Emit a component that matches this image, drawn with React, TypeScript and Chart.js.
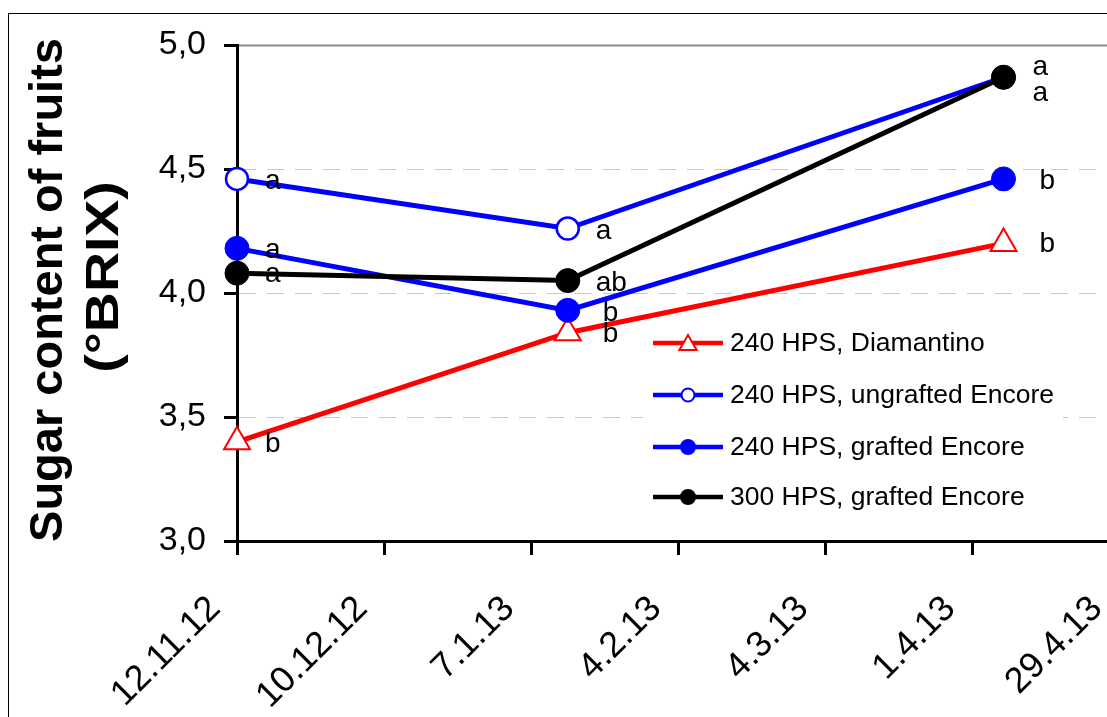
import { useEffect, useRef } from 'react';
import { Chart, registerables } from 'chart.js';

Chart.register(...registerables);

// Sampling calendar: ticks every 28 days starting 12.11.12
const dateTicks = ['12.11.12', '10.12.12', '7.1.13', '4.2.13', '4.3.13', '1.4.13', '29.4.13'];
const tickStepDays = 28;
const samplingDays = [0, 63, 146];

const seriesNames = [
  '240 HPS, Diamantino',
  '240 HPS, ungrafted Encore',
  '240 HPS, grafted Encore',
  '300 HPS, grafted Encore',
];

// °BRIX per sampling date
const diamantino240 = [3.4, 3.84, 4.2];
const ungraftedEncore240 = [4.46, 4.26, 4.87];
const graftedEncore240 = [4.18, 3.93, 4.46];
const graftedEncore300 = [4.08, 4.05, 4.87];

// Significance letters per sampling date
const diamantino240Letters = ['b', 'b', 'b'];
const ungraftedEncore240Letters = ['a', 'a', 'a'];
const graftedEncore240Letters = ['a', 'b', 'b'];
const graftedEncore300Letters = ['a', 'ab', 'a'];

const yMin = 3.0;
const yMax = 5.0;
const yStep = 0.5;

const FONT = '"Liberation Sans", Arial, sans-serif';
const CANVAS_W = 1180;
const CANVAS_H = 717;

type SeriesStyle = {
  color: string;
  pointStyle: 'triangle' | 'circle';
  radius: number;
  fill: string;
  borderWidth: number;
  legendRadius: number;
  order: number;
  letterOffsets: [number, number][];
};

const styles: SeriesStyle[] = [
  { color: '#ff0000', pointStyle: 'triangle', radius: 15, fill: '#ffffff', borderWidth: 2, legendRadius: 10, order: 3,
    letterOffsets: [[28, 10], [35, 9], [36, 9]] },
  { color: '#0000ff', pointStyle: 'circle', radius: 11, fill: '#ffffff', borderWidth: 2.5, legendRadius: 6.5, order: 2,
    letterOffsets: [[28, 10], [28, 10], [29, -2]] },
  { color: '#0000ff', pointStyle: 'circle', radius: 12, fill: '#0000ff', borderWidth: 1, legendRadius: 7, order: 1,
    letterOffsets: [[28, 10], [35, 11], [36, 10]] },
  { color: '#000000', pointStyle: 'circle', radius: 12, fill: '#000000', borderWidth: 1, legendRadius: 7, order: 0,
    letterOffsets: [[28, 9], [28, 10], [29, 24]] },
];

const seriesValues = [diamantino240, ungraftedEncore240, graftedEncore240, graftedEncore300];
const seriesLetters = [diamantino240Letters, ungraftedEncore240Letters, graftedEncore240Letters, graftedEncore300Letters];

// Horizontal grid: solid line on top, dashed lines elsewhere
const gridPlugin = {
  id: 'brixGrid',
  beforeDatasetsDraw(chart: any) {
    const { ctx, chartArea, scales } = chart;
    const y = scales.y;
    ctx.save();
    for (let v = yMin + yStep; v <= yMax + 1e-9; v += yStep) {
      const py = Math.round(y.getPixelForValue(v)) + 0.5;
      ctx.beginPath();
      if (Math.abs(v - yMax) < 1e-9) {
        ctx.setLineDash([]);
        ctx.strokeStyle = '#8c8c8c';
        ctx.lineWidth = 2;
      } else {
        ctx.setLineDash([17, 11]);
        ctx.strokeStyle = '#c8c8c8';
        ctx.lineWidth = 1;
      }
      ctx.moveTo(chartArea.left + 2, py);
      ctx.lineTo(chartArea.right, py);
      ctx.stroke();
    }
    ctx.restore();
  },
};

// Date labels below the x axis, rotated 45°
const dateLabelPlugin = {
  id: 'brixDates',
  afterDraw(chart: any) {
    const { ctx, scales } = chart;
    const x = scales.x;
    const axisY = x.top;
    ctx.save();
    ctx.font = `36px ${FONT}`;
    ctx.fillStyle = '#000';
    ctx.textAlign = 'right';
    ctx.textBaseline = 'alphabetic';
    dateTicks.forEach((label, i) => {
      const px = x.getPixelForValue(i * tickStepDays);
      ctx.save();
      ctx.translate(px - 15, axisY + 69);
      ctx.rotate(-Math.PI / 4);
      ctx.fillText(label, 0, 0);
      ctx.restore();
    });
    ctx.restore();
  },
};

// Significance letters beside each point
const lettersPlugin = {
  id: 'brixLetters',
  afterDatasetsDraw(chart: any) {
    const { ctx } = chart;
    ctx.save();
    ctx.font = `28px ${FONT}`;
    ctx.fillStyle = '#000';
    ctx.textAlign = 'left';
    ctx.textBaseline = 'alphabetic';
    seriesLetters.forEach((letters, si) => {
      const meta = chart.getDatasetMeta(si);
      letters.forEach((txt, i) => {
        const pt = meta.data[i];
        const [dx, dy] = styles[si].letterOffsets[i];
        ctx.fillText(txt, pt.x + dx, pt.y + dy);
      });
    });
    ctx.restore();
  },
};

function drawMarker(ctx: CanvasRenderingContext2D, s: SeriesStyle, x: number, y: number, r: number) {
  ctx.beginPath();
  if (s.pointStyle === 'triangle') {
    for (let k = 0; k < 3; k++) {
      const a = -Math.PI / 2 + (k * 2 * Math.PI) / 3;
      const px = x + Math.cos(a) * r;
      const py = y + Math.sin(a) * r;
      if (k === 0) ctx.moveTo(px, py);
      else ctx.lineTo(px, py);
    }
    ctx.closePath();
  } else {
    ctx.arc(x, y, r, 0, Math.PI * 2);
  }
  ctx.fillStyle = s.fill;
  ctx.fill();
  ctx.lineWidth = 2;
  ctx.strokeStyle = s.color;
  ctx.stroke();
}

// Legend box inside the plot area
const legendPlugin = {
  id: 'brixLegend',
  afterDatasetsDraw(chart: any) {
    const { ctx } = chart;
    const rowY = [343, 395, 447, 497];
    ctx.save();
    ctx.fillStyle = '#ffffff';
    ctx.fillRect(643, 322, 420, 195);
    ctx.font = `26.5px ${FONT}`;
    ctx.textBaseline = 'middle';
    ctx.textAlign = 'left';
    seriesNames.forEach((name, i) => {
      const s = styles[i];
      const y = rowY[i];
      ctx.beginPath();
      ctx.strokeStyle = s.color;
      ctx.lineWidth = 4.5;
      ctx.moveTo(653, y);
      ctx.lineTo(723, y);
      ctx.stroke();
      drawMarker(ctx, s, 688, s.pointStyle === 'triangle' ? y + 2 : y, s.legendRadius);
      ctx.fillStyle = '#000';
      ctx.fillText(name, 730, y + 1);
    });
    ctx.restore();
  },
};

// Two-line vertical axis title
const titlePlugin = {
  id: 'brixTitle',
  afterDraw(chart: any) {
    const { ctx } = chart;
    ctx.save();
    ctx.font = `bold 47px ${FONT}`;
    ctx.fillStyle = '#000';
    ctx.textAlign = 'center';
    ctx.textBaseline = 'alphabetic';
    ctx.translate(62, 290);
    ctx.rotate(-Math.PI / 2);
    ctx.fillText('Sugar content of fruits', 0, 0);
    ctx.restore();
    ctx.save();
    ctx.font = `bold 47px ${FONT}`;
    ctx.fillStyle = '#000';
    ctx.textAlign = 'center';
    ctx.textBaseline = 'alphabetic';
    ctx.translate(118, 277);
    ctx.rotate(-Math.PI / 2);
    ctx.scale(1.18, 1);
    ctx.fillText('(°BRIX)', 0, 0);
    ctx.restore();
  },
};

export default function App() {
  const canvasRef = useRef<HTMLCanvasElement | null>(null);

  useEffect(() => {
    if (!canvasRef.current) return;
    const datasets = seriesValues.map((vals, i) => {
      const s = styles[i];
      return {
        label: seriesNames[i],
        data: samplingDays.map((d, k) => ({ x: d, y: vals[k] })),
        borderColor: s.color,
        borderWidth: 5,
        backgroundColor: s.fill,
        pointStyle: s.pointStyle,
        pointRadius: s.radius,
        pointBackgroundColor: s.fill,
        pointBorderColor: s.color,
        pointBorderWidth: s.borderWidth,
        tension: 0,
        fill: false,
        clip: false as any,
        order: s.order,
      };
    });

    const chart = new Chart(canvasRef.current, {
      type: 'line',
      data: { datasets },
      plugins: [gridPlugin, lettersPlugin, legendPlugin, dateLabelPlugin, titlePlugin],
      options: {
        animation: false,
        responsive: false,
        maintainAspectRatio: false,
        layout: { padding: { left: 0, top: 45, right: CANVAS_W - 1119, bottom: 0 } },
        plugins: {
          legend: { display: false },
          tooltip: { enabled: false },
          title: { display: false },
        },
        scales: {
          x: {
            type: 'linear',
            min: 0,
            max: tickStepDays * (dateTicks.length - 1),
            afterFit: (scale: any) => {
              scale.height = CANVAS_H - 541;
            },
            afterBuildTicks: (scale: any) => {
              scale.ticks = dateTicks.map((_, i) => ({ value: i * tickStepDays }));
            },
            ticks: {
              display: false,
              stepSize: tickStepDays,
              autoSkip: false,
            },
            grid: {
              drawOnChartArea: false,
              drawTicks: true,
              tickLength: 14,
              tickWidth: 3,
              tickColor: '#000',
            },
            border: { display: true, width: 3, color: '#000' },
          },
          y: {
            type: 'linear',
            min: yMin,
            max: yMax,
            afterFit: (scale: any) => {
              scale.width = 237;
            },
            ticks: {
              stepSize: yStep,
              padding: 18,
              color: '#000',
              font: { family: FONT, size: 34 },
              callback: (v: any) => Number(v).toFixed(1).replace('.', ','),
            },
            grid: {
              drawOnChartArea: false,
              drawTicks: true,
              tickLength: 13,
              tickWidth: 3,
              tickColor: '#000',
            },
            border: { display: true, width: 3, color: '#000' },
          },
        },
      },
    });
    return () => chart.destroy();
  }, []);

  return (
    <div
      style={{
        position: 'fixed',
        left: 0,
        top: 0,
        width: 1107,
        height: 717,
        overflow: 'hidden',
        background: '#fff',
      }}
    >
      <div
        style={{
          position: 'absolute',
          left: 8,
          top: 13,
          right: -20,
          bottom: -20,
          borderLeft: '1px solid #000',
          borderTop: '1px solid #000',
        }}
      />
      <canvas
        ref={canvasRef}
        width={CANVAS_W}
        height={CANVAS_H}
        style={{ position: 'absolute', left: 0, top: 0, width: CANVAS_W, height: CANVAS_H }}
      />
    </div>
  );
}
